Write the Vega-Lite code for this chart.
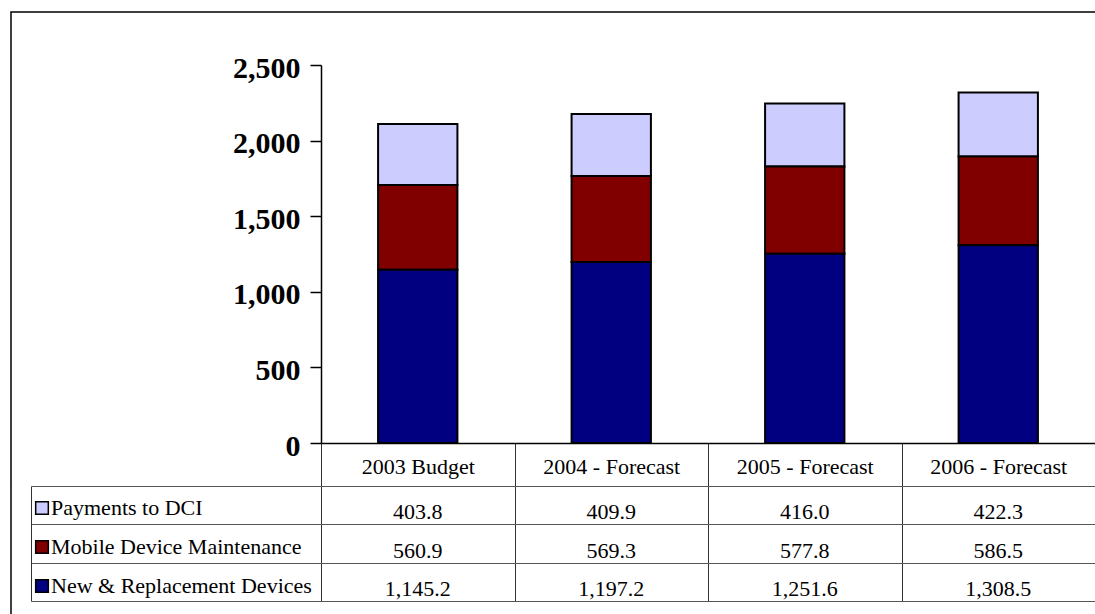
{
  "$schema": "https://vega.github.io/schema/vega-lite/v6.json",
  "padding": {"left": 10, "top": 11, "right": 0, "bottom": 0},
  "background": "white",
  "config": {"font": "Liberation Serif", "axis": {"grid": false}, "view": {"stroke": null}},
  "datasets": {
    "main": [
      {"period": "2003 Budget", "series": "Payments to DCI", "value": 403.8, "ord": 3},
      {"period": "2003 Budget", "series": "Mobile Device Maintenance", "value": 560.9, "ord": 2},
      {"period": "2003 Budget", "series": "New & Replacement Devices", "value": 1145.2, "ord": 1},
      {"period": "2004 - Forecast", "series": "Payments to DCI", "value": 409.9, "ord": 3},
      {"period": "2004 - Forecast", "series": "Mobile Device Maintenance", "value": 569.3, "ord": 2},
      {"period": "2004 - Forecast", "series": "New & Replacement Devices", "value": 1197.2, "ord": 1},
      {"period": "2005 - Forecast", "series": "Payments to DCI", "value": 416.0, "ord": 3},
      {"period": "2005 - Forecast", "series": "Mobile Device Maintenance", "value": 577.8, "ord": 2},
      {"period": "2005 - Forecast", "series": "New & Replacement Devices", "value": 1251.6, "ord": 1},
      {"period": "2006 - Forecast", "series": "Payments to DCI", "value": 422.3, "ord": 3},
      {"period": "2006 - Forecast", "series": "Mobile Device Maintenance", "value": 586.5, "ord": 2},
      {"period": "2006 - Forecast", "series": "New & Replacement Devices", "value": 1308.5, "ord": 1}
    ]
  },
  "spacing": 0,
  "bounds": "flush",
  "resolve": {"scale": {"x": "independent", "y": "independent"}},
  "vconcat": [
    {
      "width": 1084,
      "height": 474,
      "view": {"stroke": "black", "strokeWidth": 1.5, "strokeDash": [1084, 1558, 600], "fill": null},
      "data": {"name": "main"},
      "mark": {"type": "bar", "stroke": "black", "strokeWidth": 2, "width": {"band": 0.41}},
      "encoding": {
        "x": {
          "field": "period", "type": "nominal",
          "scale": {"domain": ["2003 Budget", "2004 - Forecast", "2005 - Forecast", "2006 - Forecast"], "range": [310, 1084], "paddingInner": 0, "paddingOuter": 0},
          "axis": {"orient": "bottom", "offset": -43, "title": null, "domain": true, "domainColor": "black", "domainWidth": 1.5,
                   "ticks": true, "tickBand": "extent", "tickSize": 43, "tickColor": "#333", "tickWidth": 1,
                   "labelAngle": 0, "labelFont": "Liberation Serif", "labelFontSize": 22, "labelColor": "black",
                   "labelBaseline": "middle", "labelPadding": -20, "labelLimit": 400}
        },
        "y": {
          "field": "value", "type": "quantitative", "stack": "zero",
          "scale": {"domain": [0, 2500], "range": [431, 53], "nice": false, "zero": true},
          "axis": {"orient": "left", "offset": -310, "title": null, "values": [0, 500, 1000, 1500, 2000, 2500], "format": ",.0f",
                   "domainColor": "black", "domainWidth": 1.5, "tickColor": "black", "tickWidth": 1.5, "tickSize": 11,
                   "labelPadding": 10, "labelOffset": 3, "labelFont": "Liberation Serif", "labelFontSize": 30, "labelFontWeight": "bold", "labelColor": "black"}
        },
        "color": {
          "field": "series", "type": "nominal",
          "scale": {"domain": ["Payments to DCI", "Mobile Device Maintenance", "New & Replacement Devices"], "range": ["#CCCCFF", "#800000", "#000080"]},
          "legend": {"orient": "none", "legendX": 20, "legendY": 485, "direction": "vertical", "title": null, "padding": 0,
                     "symbolType": "square", "symbolSize": 160, "symbolStrokeColor": "black", "symbolStrokeWidth": 1.5,
                     "labelFont": "Liberation Serif", "labelFontSize": 22, "labelColor": "black", "labelOffset": -2, "labelLimit": 400,
                     "rowPadding": 17}
        },
        "order": {"field": "ord", "type": "quantitative"}
      }
    },
    {
      "width": 1084,
      "height": 128,
      "view": {"stroke": "black", "strokeWidth": 1.5, "strokeDash": [0, 2296, 400], "fill": null},
      "data": {"name": "main"},
      "mark": {"type": "text", "font": "Liberation Serif", "fontSize": 22, "color": "black", "baseline": "alphabetic", "dy": 14},
      "encoding": {
        "x": {
          "field": "period", "type": "nominal",
          "scale": {"domain": ["2003 Budget", "2004 - Forecast", "2005 - Forecast", "2006 - Forecast"], "range": [310, 1084], "paddingInner": 0, "paddingOuter": 0},
          "axis": {"orient": "top", "title": null, "domain": false, "labels": false, "ticks": true, "tickBand": "extent", "tickSize": -115, "tickColor": "#333", "tickWidth": 1}
        },
        "y": {
          "field": "series", "type": "nominal",
          "scale": {"domain": ["Payments to DCI", "Mobile Device Maintenance", "New & Replacement Devices"], "range": [0, 115], "paddingInner": 0, "paddingOuter": 0},
          "axis": {"orient": "left", "offset": -20, "title": null, "labels": false, "domain": true, "domainColor": "#333", "domainWidth": 1,
                   "ticks": true, "tickBand": "extent", "tickSize": -1064, "tickColor": "#555", "tickWidth": 1}
        },
        "text": {"field": "value", "type": "quantitative", "format": ",.1f"}
      }
    }
  ]
}
